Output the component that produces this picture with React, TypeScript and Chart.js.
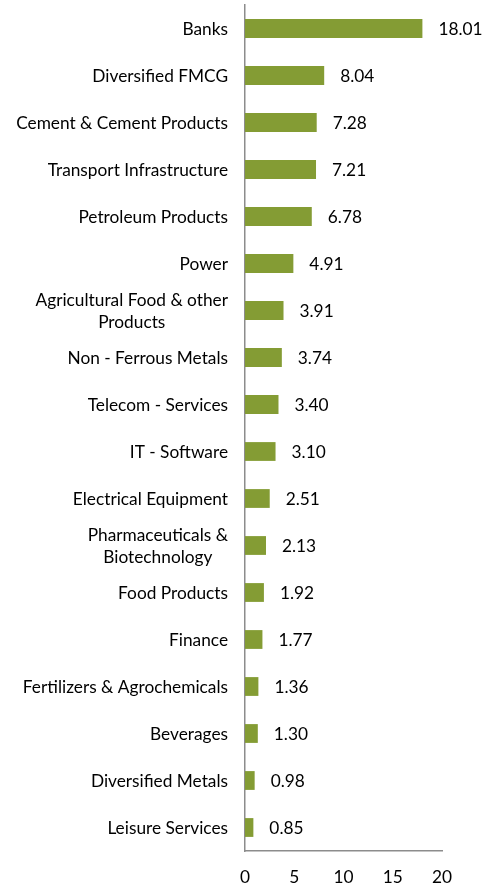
import React, { useEffect, useRef } from "react";
import { Chart, registerables } from "chart.js";

Chart.register(...registerables);

const categories: string[][] = [
  ["Banks"],
  ["Diversified FMCG"],
  ["Cement & Cement Products"],
  ["Transport Infrastructure"],
  ["Petroleum Products"],
  ["Power"],
  ["Agricultural Food & other", "Products"],
  ["Non - Ferrous Metals"],
  ["Telecom - Services"],
  ["IT - Software"],
  ["Electrical Equipment"],
  ["Pharmaceuticals &", "Biotechnology"],
  ["Food Products"],
  ["Finance"],
  ["Fertilizers & Agrochemicals"],
  ["Beverages"],
  ["Diversified Metals"],
  ["Leisure Services"],
];

const weights: number[] = [
  18.01, 8.04, 7.28, 7.21, 6.78, 4.91, 3.91, 3.74, 3.4, 3.1, 2.51, 2.13, 1.92,
  1.77, 1.36, 1.3, 0.98, 0.85,
];

const xTicks: number[] = [0, 5, 10, 15, 20];

const FONT = "Lato";
const FONT_SIZE = 17.3;
const BAR_COLOR = "#849C34";
const AXIS_COLOR = "#8C8C8C";

const labelsPlugin = {
  id: "customLabels",
  afterDatasetsDraw(chart: any) {
    const ctx = chart.ctx;
    const meta = chart.getDatasetMeta(0);
    const yScale = chart.scales.y;
    ctx.save();
    ctx.font = `${FONT_SIZE}px ${FONT}`;
    ctx.fillStyle = "#000000";
    ctx.textBaseline = "middle";
    ctx.textAlign = "left";
    meta.data.forEach((bar: any, i: number) => {
      ctx.fillText(weights[i].toFixed(2), bar.x + 16, bar.y + 1);
    });
    const right = chart.chartArea.left - 17;
    const lineH = 22.5;
    categories.forEach((lines, i) => {
      const cy = yScale.getPixelForValue(i);
      if (lines.length === 1) {
        ctx.textAlign = "right";
        ctx.fillText(lines[0], right, cy + 1);
      } else {
        const w = Math.max(...lines.map((l) => ctx.measureText(l).width));
        const cx = right - w / 2;
        ctx.textAlign = "center";
        lines.forEach((l, k) => {
          const y = cy + (k - (lines.length - 1) / 2) * lineH + 1;
          ctx.fillText(l, cx, y);
        });
      }
    });
    ctx.restore();
  },
};

export default function App() {
  const canvasRef = useRef<HTMLCanvasElement | null>(null);

  useEffect(() => {
    if (!canvasRef.current) return;
    const chart = new Chart(canvasRef.current, {
      type: "bar",
      data: {
        labels: categories.map((c) => c.join(" ")),
        datasets: [
          {
            data: weights,
            backgroundColor: BAR_COLOR,
            borderWidth: 0,
            categoryPercentage: 1,
            barPercentage: 0.4,
          },
        ],
      },
      plugins: [labelsPlugin],
      options: {
        indexAxis: "y",
        animation: false,
        responsive: true,
        maintainAspectRatio: false,
        layout: { padding: { left: 245, right: 53, top: 5, bottom: 0 } },
        plugins: {
          legend: { display: false },
          tooltip: { enabled: false },
        },
        scales: {
          x: {
            min: 0,
            max: 20,
            afterBuildTicks: (scale: any) => {
              scale.ticks = xTicks.map((v) => ({ value: v }));
            },
            afterFit: (scale: any) => {
              scale.height = 35;
            },
            grid: { display: false, drawTicks: false },
            border: { display: true, color: AXIS_COLOR, width: 1.5 },
            ticks: {
              color: "#000000",
              font: { family: FONT, size: FONT_SIZE },
              padding: 16,
              maxRotation: 0,
            },
          },
          y: {
            grid: { display: false, drawTicks: false },
            border: { display: true, color: AXIS_COLOR, width: 1.5 },
            ticks: { display: false },
          },
        },
      },
    });
    return () => chart.destroy();
  }, []);

  return (
    <div style={{ position: "fixed", left: 0, top: 0, width: 495, height: 886, background: "#ffffff" }}>
      <canvas ref={canvasRef} />
    </div>
  );
}
